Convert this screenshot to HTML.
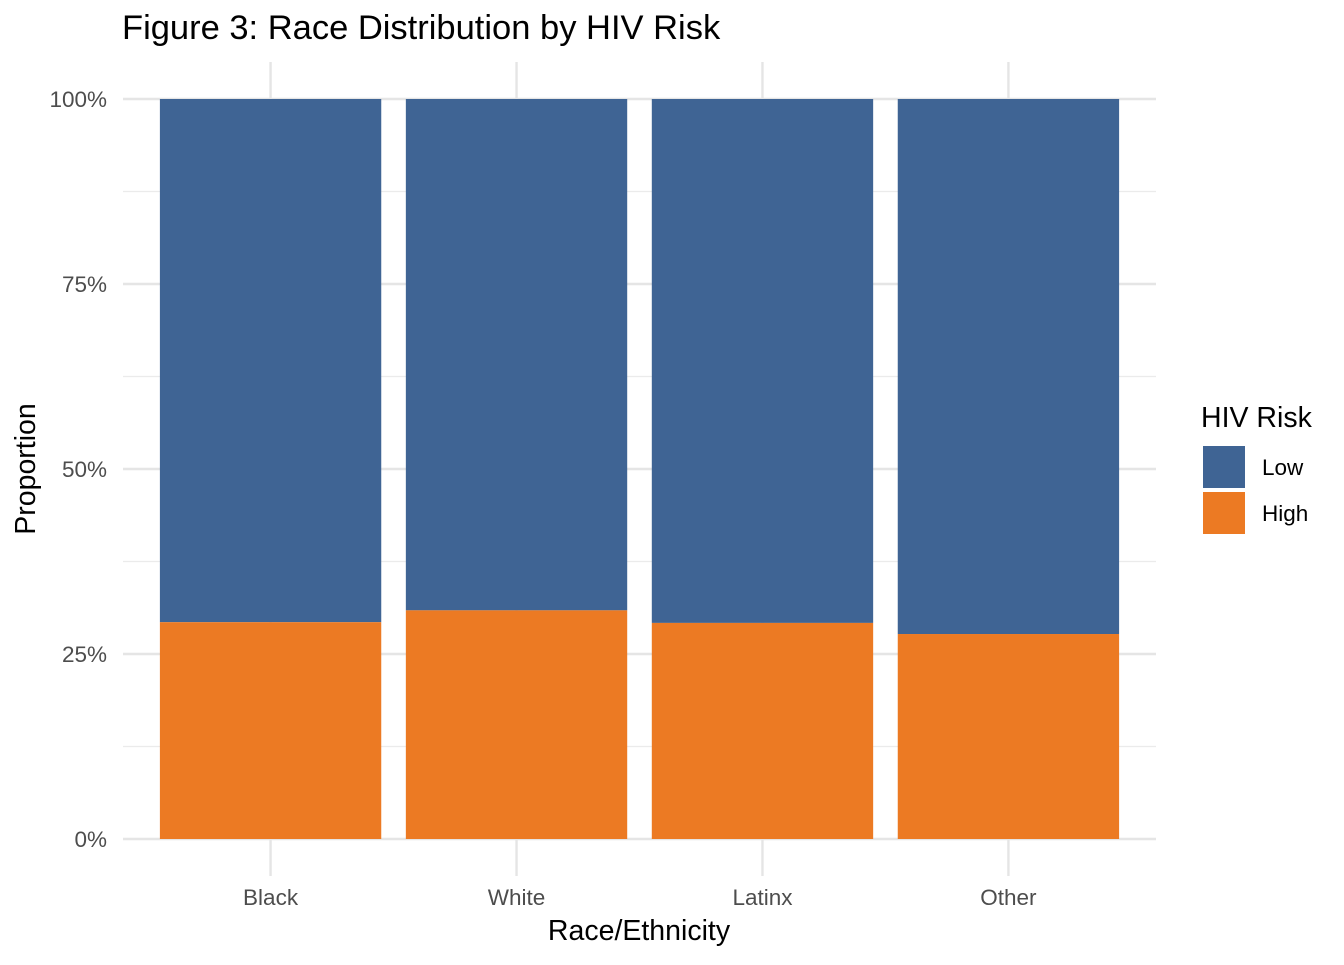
<!DOCTYPE html>
<html><head><meta charset="utf-8"><style>
body{margin:0;background:#fff;}
svg text{font-family:"Liberation Sans",Arial,sans-serif;}
</style></head><body>
<svg id="chart" width="1344" height="960">
<text x="122" y="39" font-size="34.5" fill="#000">Figure 3: Race Distribution by HIV Risk</text>
<g id="grid"></g>
<g id="bars"></g>
<g id="axes"></g>
<text x="639" y="940" font-size="28.5" text-anchor="middle" fill="#000">Race/Ethnicity</text>
<text transform="translate(35,469) rotate(-90)" font-size="28.5" text-anchor="middle" fill="#000">Proportion</text>
<g>
<text x="1201" y="427" font-size="28.5" fill="#000">HIV Risk</text>
<rect x="1203" y="446" width="42" height="42" fill="#3F6494"/>
<text x="1262" y="475" font-size="22.5" fill="#000">Low</text>
<rect x="1203" y="492" width="42" height="42" fill="#EC7A23"/>
<text x="1262" y="521" font-size="22.5" fill="#000">High</text>
</g>
</svg>
<script>
const categories=["Black","White","Latinx","Other"];
const highShare=[0.293,0.309,0.292,0.277];
const yTicks=[0,0.25,0.5,0.75,1];
const yTickLabels=["0%","25%","50%","75%","100%"];
const NS="http://www.w3.org/2000/svg";
const x0=123,x1=1156,yTop=62,yBot=876;
const step=(x1-x0)/(categories.length+0.2);
function xc(i){return x0+step*(i+0.6);}
function y(v){return 839-v*740;}
function mk(tag,attrs,parent){const e=document.createElementNS(NS,tag);for(const k in attrs)e.setAttribute(k,attrs[k]);parent.appendChild(e);return e;}
const grid=document.getElementById('grid'),bars=document.getElementById('bars'),axes=document.getElementById('axes');
for(let i=0;i<yTicks.length-1;i++){const v=(yTicks[i]+yTicks[i+1])/2;
const l=mk('line',{x1:x0,x2:x1,y1:y(v),y2:y(v),stroke:'#ebebeb','stroke-width':1.2},grid);

}
yTicks.forEach((v,i)=>{const l=mk('line',{x1:x0,x2:x1,y1:y(v),y2:y(v),stroke:'#e5e5e5','stroke-width':2.4},grid);


const t=mk('text',{x:107,y:y(v)+8,'font-size':22.5,'text-anchor':'end',fill:'#4d4d4d'},axes);t.textContent=yTickLabels[i];

});
categories.forEach((c,i)=>{const l=mk('line',{x1:xc(i),x2:xc(i),y1:yTop,y2:yBot,stroke:'#e5e5e5','stroke-width':2.4},grid);


const w=step*0.9,bx=xc(i)-w/2;
const lo=mk('rect',{x:bx,y:y(1),width:w,height:y(highShare[i])-y(1),fill:'#3F6494'},bars);


const hi=mk('rect',{x:bx,y:y(highShare[i]),width:w,height:y(0)-y(highShare[i]),fill:'#EC7A23'},bars);


const t=mk('text',{x:xc(i),y:905,'font-size':22.5,'text-anchor':'middle',fill:'#4d4d4d'},axes);t.textContent=c;

});
</script>
</body></html>
